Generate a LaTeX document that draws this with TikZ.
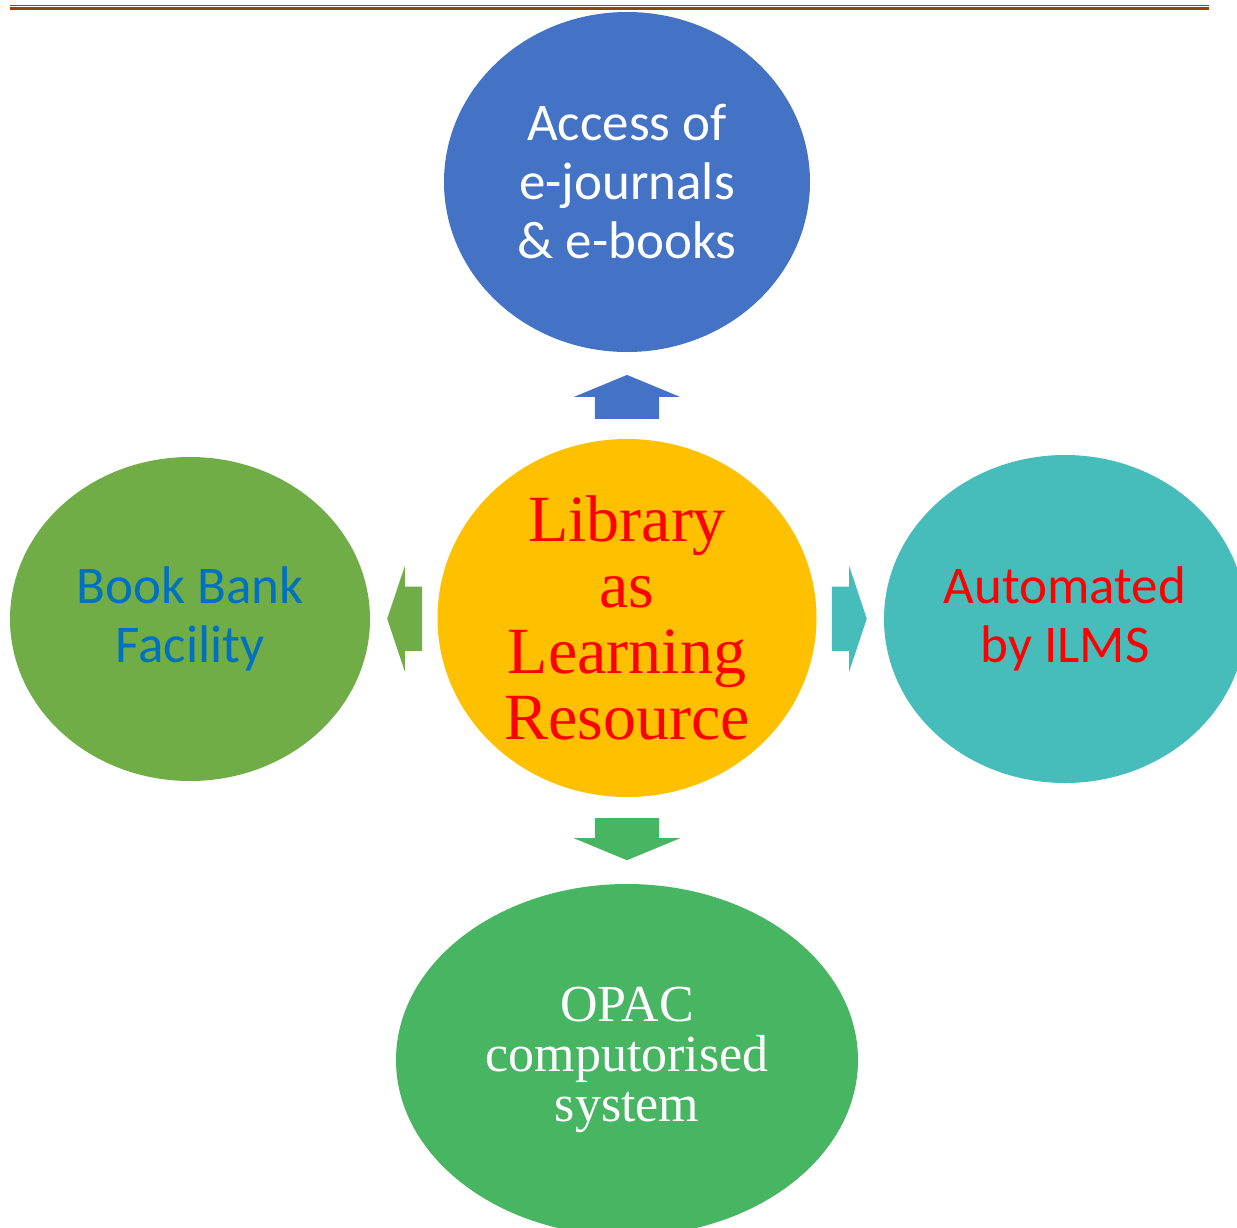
\documentclass[tikz,border=0pt]{standalone}
\usepackage{fontspec}
\setmainfont{Liberation Serif}
\newfontfamily\calibfont{Carlito}
\usetikzlibrary{shapes.geometric,shapes.arrows,calc}

\definecolor{accblue}{RGB}{68,114,196}
\definecolor{libgold}{RGB}{255,192,0}
\definecolor{bankgreen}{RGB}{112,173,71}
\definecolor{ilmsteal}{RGB}{70,189,186}
\definecolor{opacgreen}{RGB}{72,181,99}
\definecolor{banktext}{RGB}{0,112,192}
\definecolor{rulebrown}{RGB}{148,69,11}

\tikzset{
  bubble/.style={ellipse,inner sep=0pt,align=center},
  sanstext/.style={font=\calibfont\fontsize{53}{59}\selectfont},
  blockarrow/.style={single arrow,draw=none,anchor=tip,inner xsep=0pt,inner ysep=32pt,single arrow head extend=21pt}
}

\begin{document}
\begin{tikzpicture}[x=1pt,y=-1pt]
\useasboundingbox (0,0) rectangle (1237,1227);
% rule at the top of the page
\draw[rulebrown,line width=1pt] (10,5) -- (1209,5);
\draw[rulebrown,line width=3.5pt] (10,8.5) -- (1209,8.5);

\node[bubble,fill=libgold,minimum width=379,minimum height=358,text=red,
  font=\fontsize{66}{66}\selectfont] (lib) at (627,618) {Library\\as\\Learning\\Resource};
\node[bubble,sanstext,fill=accblue,minimum width=366,minimum height=340,text=white] (acc) at (627,182) {Access of\\e-journals\\\& e-books};
\node[bubble,sanstext,fill=bankgreen,minimum width=360,minimum height=324,text=banktext] (bank) at (190,619) {Book Bank\\Facility};
\node[bubble,sanstext,fill=ilmsteal,minimum width=362,minimum height=328,text=red] (ilms) at (1065,619) {Automated\\by ILMS};
\node[bubble,fill=opacgreen,minimum width=462,minimum height=352,text=white,
  font=\fontsize{52}{50}\selectfont] (opac) at (627,1060) {OPAC\\computorised\\system};

% block arrows in the gaps
\node[blockarrow,fill=accblue,rotate=90,minimum height=44,single arrow tip angle=135] (upar) at ($(lib.north)!.74!(acc.south)$) {};
\node[blockarrow,fill=opacgreen,rotate=-90,minimum height=42,single arrow tip angle=135] (downar) at ($(lib.south)!.73!(opac.north)$) {};
\node[blockarrow,fill=bankgreen,rotate=180,minimum height=35,single arrow tip angle=143] (leftar) at ($(lib.west)!.75!(bank.east)$) {};
\node[blockarrow,fill=ilmsteal,minimum height=35,single arrow tip angle=143] (rightar) at ($(lib.east)!.75!(ilms.west)$) {};
\end{tikzpicture}
\end{document}
